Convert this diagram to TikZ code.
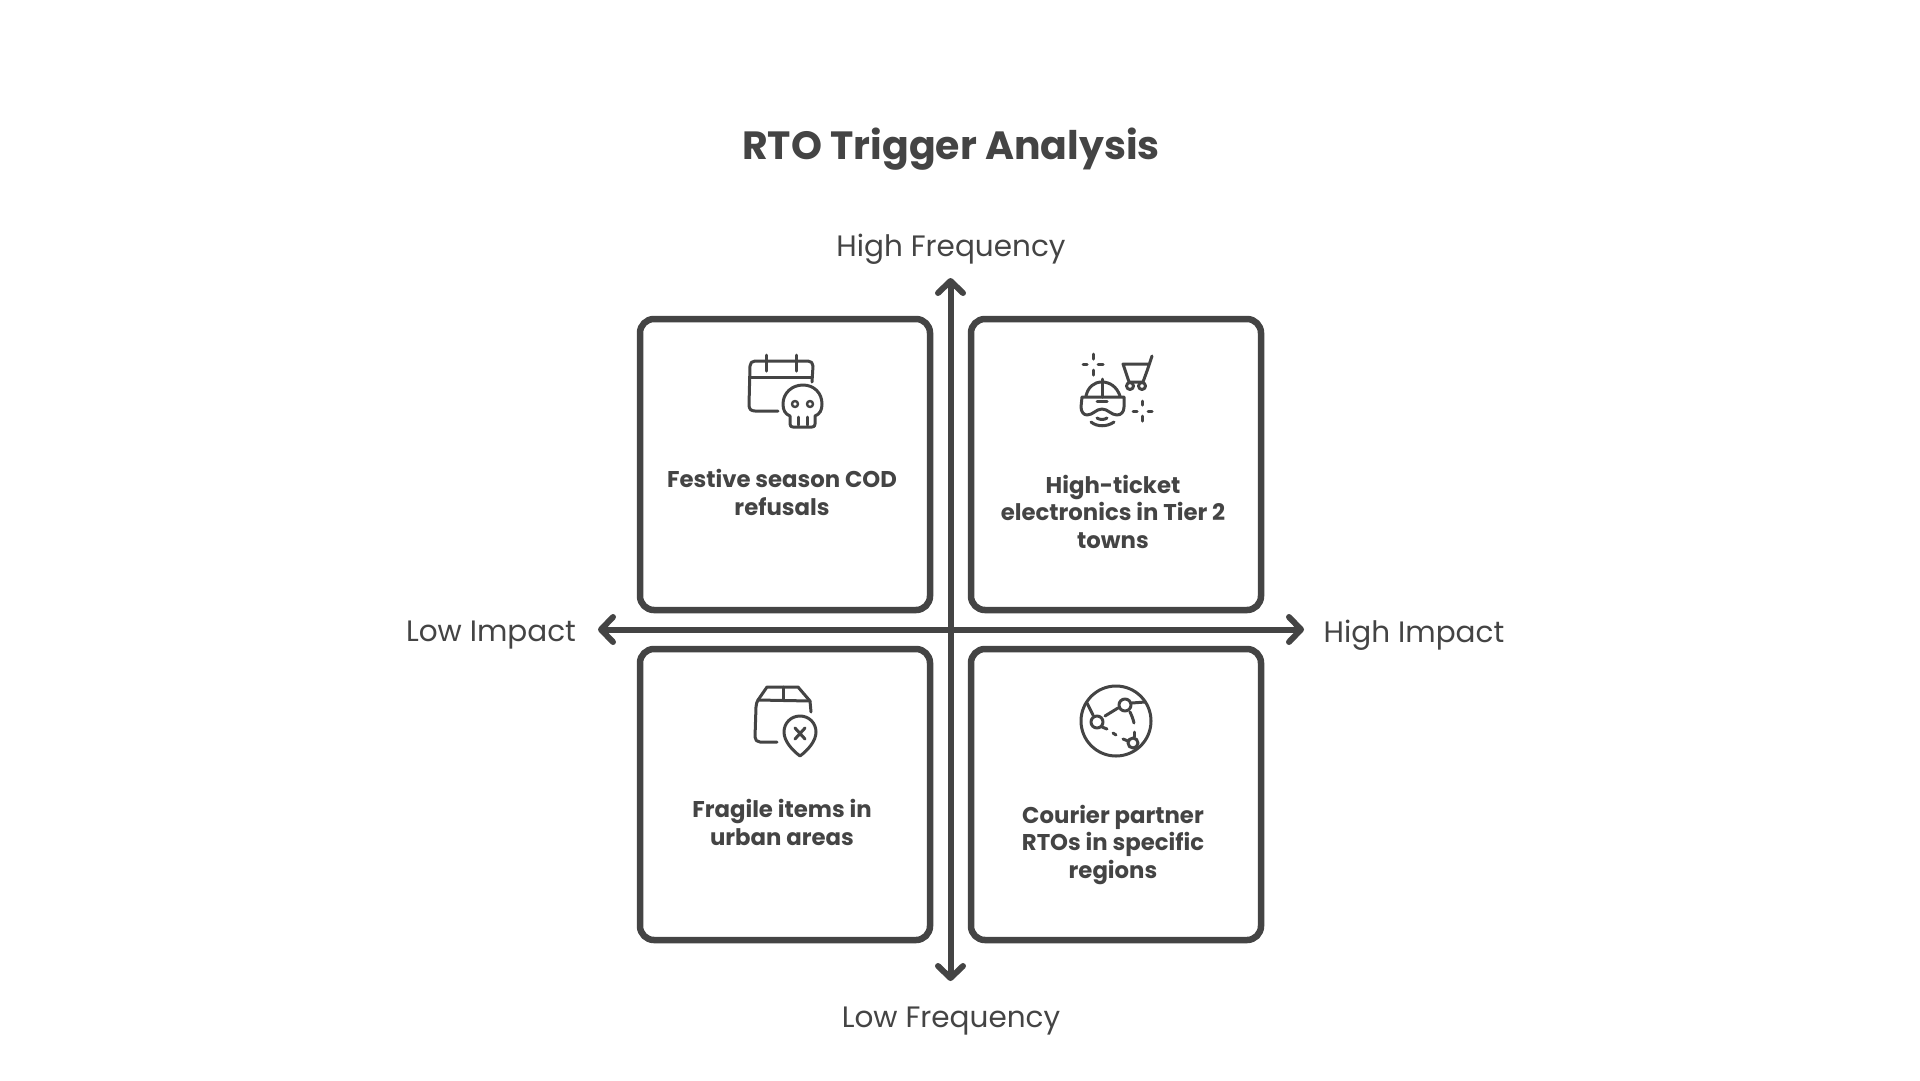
\documentclass[tikz,border=0pt]{standalone}
\usepackage{fontspec}
\setmainfont{Poppins}
\usetikzlibrary{arrows.meta}
\definecolor{ink}{HTML}{444444}
\tikzstyle{quadrant} = [rectangle,
minimum width=290pt,
minimum height=291pt,
rounded corners=14pt,
line width=6.5pt,
draw=ink]
\tikzstyle{quadlabel} = [text=ink,
align=center,
font=\fontsize{22.8}{27.5}\selectfont\bfseries,
inner sep=0pt]
\tikzstyle{axislabel} = [text=ink,
font=\fontsize{29.5}{36}\selectfont,
inner sep=0pt]
\tikzstyle{arrow} = [line width=6pt,draw=ink,line cap=round,<->,>={Straight Barb[round,length=12pt,width=25pt,line width=6pt]}]
\tikzstyle{glyph} = [draw=ink,line width=3pt,line cap=round,line join=round]

\begin{document}
\begin{tikzpicture}[x=1pt,y=-1pt,node distance=331pt]
  \useasboundingbox (0,0) rectangle (1920,1080);

  \node (title) [text=ink,font=\fontsize{39.4}{46}\selectfont\bfseries,inner sep=0pt] at (951,149) {RTO Trigger Analysis};

  \node (festive) [quadrant] at (785,464.5) {};
  \node (ticket) [quadrant, right of=festive] {};
  \node (fragile) [quadrant, below of=festive, node distance=330pt] {};
  \node (courier) [quadrant, right of=fragile] {};

  \node (festivetext) [quadlabel, below of=festive, node distance=28pt, xshift=-3pt] {Festive season COD\\refusals};
  \node (tickettext) [quadlabel, below of=ticket, node distance=47pt, xshift=-3pt] {High-ticket\\electronics in Tier 2\\towns};
  \node (fragiletext) [quadlabel, below of=fragile, node distance=28pt, xshift=-3pt] {Fragile items in\\urban areas};
  \node (couriertext) [quadlabel, below of=courier, node distance=50pt, xshift=-3pt] {Courier partner\\RTOs in specific\\regions};

  \node (highfreq) [axislabel] at (951,249.5) {High Frequency};
  \node (lowfreq) [axislabel] at (951,1021.5) {Low Frequency};
  \node (lowimpact) [axislabel] at (491,635.5) {Low Impact};
  \node (highimpact) [axislabel] at (1414,635.5) {High Impact};

  \coordinate (freqtop) at (950.5,278);
  \coordinate (freqbottom) at (950.5,981);
  \coordinate (impactleft) at (598,629.5);
  \coordinate (impactright) at (1304,629.5);
  \draw [arrow] (freqbottom) -- (freqtop);
  \draw [arrow] (impactleft) -- (impactright);

  \draw [glyph] (778,411) -- (755,411) .. controls (751,411) and (749,409) .. (749,405) -- (750,366) .. controls (750,363) and (752,361) .. (755,361) -- (808,361) .. controls (811,361) and (813,363) .. (813,366) -- (812,382);
  \draw [glyph] (750,377) -- (812,377);
  \draw [glyph] (766,355) -- (766,371);
  \draw [glyph] (796,355) -- (796,371);
  \draw [glyph] (790,416) .. controls (785,414) and (783,410) .. (783,404) .. controls (783,393) and (792,385) .. (803,385) .. controls (814,385) and (822,393) .. (822,404) .. controls (822,410) and (820,414) .. (815,416) -- (815,424) .. controls (815,426) and (814,427) .. (812,427) -- (793,427) .. controls (791,427) and (790,426) .. (790,424) -- cycle;
  \draw [glyph, line width=2.4pt] (795,404) circle (3);
  \draw [glyph, line width=2.4pt] (810,404) circle (3);
  \draw [glyph] (798,417) -- (798,425);
  \draw [glyph] (807,417) -- (807,425);

  \draw [glyph] (1093,354) -- (1093,359);
  \draw [glyph] (1093,370) -- (1093,375);
  \draw [glyph] (1083,364) -- (1087,364);
  \draw [glyph] (1098,364) -- (1103,364);
  \draw [glyph] (1142,401) -- (1142,405);
  \draw [glyph] (1142,416) -- (1142,421);
  \draw [glyph] (1133,411) -- (1137,411);
  \draw [glyph] (1148,411) -- (1152,411);
  \draw [glyph] (1152,356) -- (1147,371) -- (1143,382) -- (1129,382) -- (1123,364) -- (1148,364);
  \draw [glyph] (1130,386) circle (3.5);
  \draw [glyph] (1142,386) circle (3.5);
  \draw [glyph] (1086,396) .. controls (1088,387) and (1094,382) .. (1102,382) .. controls (1110,382) and (1117,387) .. (1120,396);
  \draw [glyph] (1102,379) -- (1102,397);
  \draw [glyph] (1082,397) -- (1124,397) -- (1124,407) .. controls (1124,412) and (1121,415) .. (1117,415) .. controls (1111,415) and (1108,409) .. (1102,409) .. controls (1096,409) and (1093,415) .. (1087,415) .. controls (1084,415) and (1081,412) .. (1081,407) -- cycle;
  \draw [glyph] (1097,401) -- (1107,401);
  \draw [glyph] (1097,418) .. controls (1100,420) and (1104,420) .. (1107,418);
  \draw [glyph] (1091,422) .. controls (1097,427) and (1107,427) .. (1114,422);

  \draw [glyph] (777,742) -- (760,742) .. controls (757,742) and (755,740) .. (755,737) -- (756,707) .. controls (756,704) and (757,702) .. (758,700) -- (767,687) -- (798,687) -- (810,701) -- (811,712);
  \draw [glyph] (758,700) -- (810,701);
  \draw [glyph] (783,687) -- (783,700);
  \draw [glyph] (800,756) .. controls (792,750) and (784,741) .. (784,732) .. controls (784,723) and (791,716) .. (800,716) .. controls (809,716) and (816,723) .. (816,732) .. controls (816,741) and (808,750) .. (800,756) -- cycle;
  \draw [glyph] (795,728) -- (805,739);
  \draw [glyph] (805,728) -- (795,739);

  \draw [glyph] (1116,721) circle (35);
  \draw [glyph] (1097,722) circle (6);
  \draw [glyph] (1125,705) circle (6);
  \draw [glyph] (1133,743) circle (5);
  \draw [glyph] (1087,703) -- (1093,715);
  \draw [glyph] (1105,716) -- (1118,708);
  \draw [glyph] (1132,703) -- (1145,702);
  \draw [glyph] (1130,712) .. controls (1132,716) and (1133,719) .. (1134,723);
  \draw [glyph] (1102,727) -- (1107,729);
  \draw [glyph] (1113,733) -- (1116,735);
  \draw [glyph] (1123,739) -- (1128,741);
  \draw [glyph] (1134,732) -- (1134,737);
\end{tikzpicture}
\end{document}
